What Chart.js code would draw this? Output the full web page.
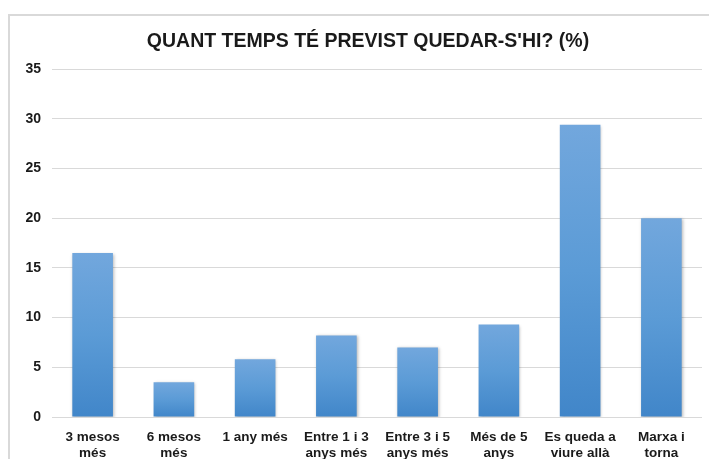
<!DOCTYPE html>
<html>
<head>
<meta charset="utf-8">
<script src="https://cdn.jsdelivr.net/npm/chart.js@4.4.1/dist/chart.umd.min.js"></script>
<style>
  html, body { margin: 0; padding: 0; background: #fff; }
  #wrap { position: relative; width: 709px; height: 459px; overflow: hidden; }
  #frame { position: absolute; left: 8px; top: 14px; width: 720px; height: 480px; border: 2px solid #d9d9d9; box-sizing: border-box; }
  canvas { position: absolute; left: 0; top: 0; }
</style>
</head>
<body>
<div id="wrap">
  <div id="frame"></div>
  <canvas id="chart" width="709" height="459"></canvas>
</div>
<script>
const titleText = "QUANT TEMPS TÉ PREVIST QUEDAR-S'HI? (%)";
const categories = [
  ["3 mesos", "més"],
  ["6 mesos", "més"],
  ["1 any més"],
  ["Entre 1 i 3", "anys més"],
  ["Entre 3 i 5", "anys més"],
  ["Més de 5", "anys"],
  ["Es queda a", "viure allà"],
  ["Marxa i", "torna"]
];
const percentages = [16.5, 3.5, 5.8, 8.2, 7.0, 9.3, 29.4, 20.0];
const yMax = 35;
const yStep = 5;

const fontFamily = 'Liberation Sans, Arial, sans-serif';

// each bar gets its own light-to-dark gradient
function barGradient(c) {
  const chart = c.chart;
  const area = chart.chartArea;
  if (!area || c.type !== 'data') return '#5b9bd5';
  const yScale = chart.scales.y;
  const top = yScale.getPixelForValue(c.parsed.y);
  const bottom = yScale.getPixelForValue(0);
  const g = chart.ctx.createLinearGradient(0, top, 0, bottom);
  g.addColorStop(0, '#72a7dd');
  g.addColorStop(0.5, '#5b9bd6');
  g.addColorStop(1, '#4186c9');
  return g;
}

const barShadow = {
  id: 'barShadow',
  beforeDatasetsDraw(chart) {
    const ctx = chart.ctx;
    ctx.save();
    ctx.shadowColor = 'rgba(0,0,0,0.28)';
    ctx.shadowBlur = 3;
    ctx.shadowOffsetX = 1;
    ctx.shadowOffsetY = 1;
  },
  afterDatasetsDraw(chart) {
    chart.ctx.restore();
  }
};

// title centred over the plot area rather than the whole canvas
const plotTitle = {
  id: 'plotTitle',
  afterDraw(chart) {
    const ctx = chart.ctx;
    const area = chart.chartArea;
    ctx.save();
    ctx.font = 'bold 19.5px ' + fontFamily;
    ctx.fillStyle = '#1a1a1a';
    ctx.textAlign = 'center';
    ctx.textBaseline = 'alphabetic';
    ctx.fillText(titleText, (area.left + area.right) / 2 - 9, 47);
    ctx.restore();
  }
};

const ctx = document.getElementById('chart').getContext('2d');
new Chart(ctx, {
  type: 'bar',
  data: {
    labels: categories,
    datasets: [{
      data: percentages,
      backgroundColor: barGradient,
      borderWidth: 0,
      categoryPercentage: 1.0,
      barPercentage: 0.5
    }]
  },
  plugins: [barShadow, plotTitle],
  options: {
    responsive: false,
    animation: false,
    devicePixelRatio: 1,
    layout: { padding: { left: 0, right: 7, top: 69, bottom: 0 } },
    plugins: {
      legend: { display: false },
      tooltip: { enabled: false },
      title: { display: false }
    },
    scales: {
      x: {
        grid: { display: false },
        border: { display: false },
        ticks: {
          color: '#1a1a1a',
          padding: 5,
          maxRotation: 0,
          autoSkip: false,
          font: { family: fontFamily, size: 13.5, weight: 'bold', lineHeight: 1.15 }
        },
        afterFit(scale) { scale.height = 42; }
      },
      y: {
        min: 0,
        max: yMax,
        grid: { color: '#d9d9d9', lineWidth: 1, drawTicks: false },
        border: { display: false },
        ticks: {
          stepSize: yStep,
          color: '#1a1a1a',
          padding: 11,
          font: { family: fontFamily, size: 14, weight: 'bold' }
        },
        afterFit(scale) { scale.width = 52; }
      }
    }
  }
});
</script>
</body>
</html>
